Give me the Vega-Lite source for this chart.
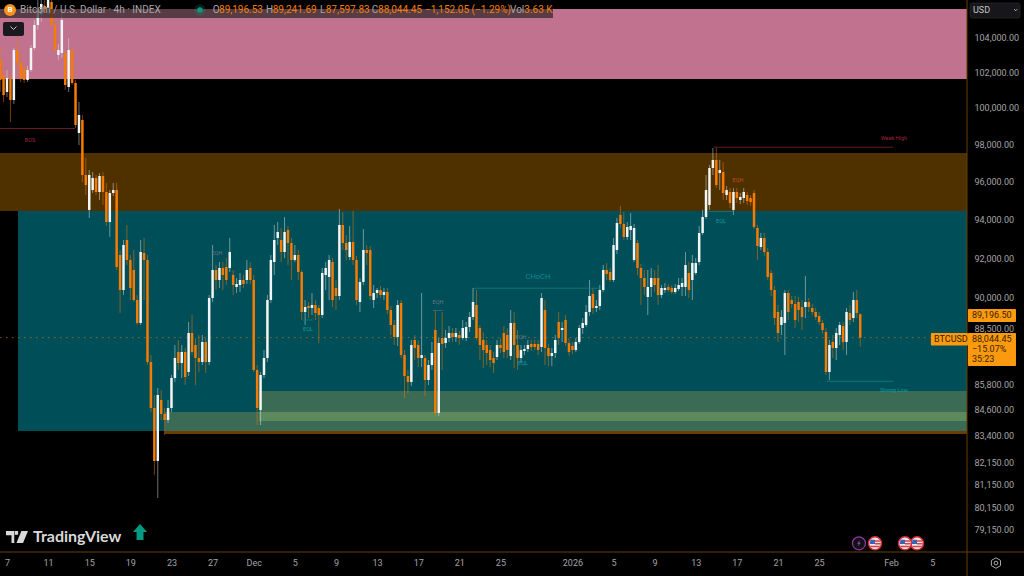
{"$schema":"https://vega.github.io/schema/vega-lite/v6.json","width":967,"height":552,"autosize":"none","padding":{"left":0,"top":0,"right":57,"bottom":24},"background":"#000000","view":{"stroke":null},
"resolve":{"scale":{"color":"independent"},"axis":{"x":"independent","y":"independent"}},
"datasets":{"candles":[
{"t":"2025-11-06T08:00Z","o":102685,"h":103430,"l":100880,"c":101554},
{"t":"2025-11-06T16:00Z","o":101836,"h":102685,"l":100324,"c":100714},
{"t":"2025-11-07T00:00Z","o":100880,"h":102118,"l":100600,"c":101667},
{"t":"2025-11-07T08:00Z","o":101667,"h":101950,"l":99218,"c":100435},
{"t":"2025-11-07T16:00Z","o":100435,"h":103370,"l":100213,"c":103256},
{"t":"2025-11-08T00:00Z","o":103256,"h":103945,"l":102231,"c":102515},
{"t":"2025-11-08T08:00Z","o":102515,"h":102970,"l":101442,"c":101667},
{"t":"2025-11-08T16:00Z","o":102231,"h":102570,"l":101386,"c":101554},
{"t":"2025-11-09T00:00Z","o":101554,"h":102344,"l":101442,"c":102118},
{"t":"2025-11-09T08:00Z","o":102118,"h":103543,"l":102005,"c":103370},
{"t":"2025-11-09T16:00Z","o":103370,"h":104987,"l":103256,"c":104696},
{"t":"2025-11-10T00:00Z","o":104696,"h":106155,"l":104406,"c":105570},
{"t":"2025-11-10T08:00Z","o":105337,"h":106450,"l":104870,"c":105920},
{"t":"2025-11-10T16:00Z","o":105804,"h":106155,"l":105103,"c":105570},
{"t":"2025-11-11T00:00Z","o":105687,"h":106450,"l":105337,"c":106155},
{"t":"2025-11-11T08:00Z","o":106040,"h":106300,"l":104522,"c":104696},
{"t":"2025-11-11T16:00Z","o":104696,"h":105103,"l":103142,"c":103256},
{"t":"2025-11-12T00:00Z","o":102970,"h":103600,"l":102685,"c":103256},
{"t":"2025-11-12T08:00Z","o":103085,"h":105570,"l":102800,"c":104987},
{"t":"2025-11-12T16:00Z","o":103085,"h":103256,"l":100993,"c":101273},
{"t":"2025-11-13T00:00Z","o":101161,"h":103945,"l":100880,"c":103256},
{"t":"2025-11-13T08:00Z","o":103256,"h":103430,"l":101273,"c":101386},
{"t":"2025-11-13T16:00Z","o":101386,"h":101554,"l":98889,"c":99053},
{"t":"2025-11-14T00:00Z","o":98615,"h":100324,"l":97960,"c":99604},
{"t":"2025-11-14T08:00Z","o":99328,"h":99604,"l":95974,"c":96347},
{"t":"2025-11-14T16:00Z","o":96347,"h":97258,"l":95285,"c":95815},
{"t":"2025-11-15T00:00Z","o":94500,"h":96614,"l":94080,"c":96347},
{"t":"2025-11-15T08:00Z","o":95550,"h":96507,"l":95391,"c":96187},
{"t":"2025-11-15T16:00Z","o":96187,"h":96347,"l":95285,"c":95444},
{"t":"2025-11-16T00:00Z","o":95444,"h":96454,"l":95020,"c":96294},
{"t":"2025-11-16T08:00Z","o":96294,"h":96507,"l":94760,"c":95444},
{"t":"2025-11-16T16:00Z","o":95444,"h":95921,"l":93663,"c":93871},
{"t":"2025-11-17T00:00Z","o":93871,"h":95550,"l":93095,"c":95391},
{"t":"2025-11-17T08:00Z","o":95391,"h":95921,"l":95232,"c":95550},
{"t":"2025-11-17T16:00Z","o":95550,"h":95921,"l":91407,"c":91559},
{"t":"2025-11-18T00:00Z","o":92170,"h":92425,"l":89256,"c":90400},
{"t":"2025-11-18T08:00Z","o":90400,"h":92940,"l":90150,"c":92682},
{"t":"2025-11-18T16:00Z","o":92940,"h":93715,"l":91660,"c":91914},
{"t":"2025-11-19T00:00Z","o":91914,"h":92170,"l":89900,"c":90500},
{"t":"2025-11-19T08:00Z","o":91407,"h":92425,"l":89800,"c":89900},
{"t":"2025-11-19T16:00Z","o":89900,"h":90150,"l":88664,"c":88762},
{"t":"2025-11-20T00:00Z","o":88762,"h":92940,"l":88664,"c":92323},
{"t":"2025-11-20T08:00Z","o":92272,"h":93043,"l":89900,"c":91914},
{"t":"2025-11-20T16:00Z","o":91914,"h":92170,"l":86721,"c":86865},
{"t":"2025-11-21T00:00Z","o":86865,"h":87200,"l":84492,"c":84680},
{"t":"2025-11-21T08:00Z","o":84680,"h":85290,"l":81595,"c":82230},
{"t":"2025-11-21T16:00Z","o":82230,"h":85623,"l":80560,"c":85290},
{"t":"2025-11-22T00:00Z","o":85055,"h":85528,"l":84118,"c":84399},
{"t":"2025-11-22T08:00Z","o":84399,"h":84680,"l":83420,"c":84118},
{"t":"2025-11-22T16:00Z","o":84118,"h":85055,"l":83979,"c":84680},
{"t":"2025-11-23T00:00Z","o":84680,"h":86242,"l":84492,"c":86098},
{"t":"2025-11-23T08:00Z","o":86098,"h":87687,"l":85908,"c":87058},
{"t":"2025-11-23T16:00Z","o":87347,"h":87930,"l":86481,"c":86817},
{"t":"2025-11-24T00:00Z","o":86817,"h":87687,"l":86098,"c":87347},
{"t":"2025-11-24T08:00Z","o":87347,"h":87541,"l":85765,"c":86146},
{"t":"2025-11-24T16:00Z","o":86385,"h":88811,"l":86194,"c":88272},
{"t":"2025-11-25T00:00Z","o":88272,"h":89157,"l":87202,"c":87347},
{"t":"2025-11-25T08:00Z","o":87687,"h":88028,"l":85765,"c":87058},
{"t":"2025-11-25T16:00Z","o":87058,"h":88174,"l":86385,"c":86865},
{"t":"2025-11-26T00:00Z","o":86865,"h":88174,"l":86721,"c":87833},
{"t":"2025-11-26T08:00Z","o":87833,"h":88028,"l":86338,"c":86865},
{"t":"2025-11-26T16:00Z","o":86865,"h":90150,"l":86721,"c":90000},
{"t":"2025-11-27T00:00Z","o":90000,"h":92682,"l":89800,"c":91407},
{"t":"2025-11-27T08:00Z","o":91407,"h":91660,"l":90400,"c":90902},
{"t":"2025-11-27T16:00Z","o":90902,"h":91812,"l":90500,"c":91508},
{"t":"2025-11-28T00:00Z","o":91508,"h":91812,"l":90400,"c":91154},
{"t":"2025-11-28T08:00Z","o":91559,"h":92017,"l":90650,"c":90902},
{"t":"2025-11-28T16:00Z","o":91508,"h":93043,"l":91306,"c":92323},
{"t":"2025-11-29T00:00Z","o":91154,"h":91407,"l":90150,"c":90650},
{"t":"2025-11-29T08:00Z","o":90550,"h":91003,"l":90250,"c":90700},
{"t":"2025-11-29T16:00Z","o":90650,"h":91255,"l":90300,"c":90902},
{"t":"2025-11-30T00:00Z","o":90902,"h":91154,"l":90500,"c":90700},
{"t":"2025-11-30T08:00Z","o":90902,"h":91914,"l":90700,"c":91407},
{"t":"2025-11-30T16:00Z","o":91508,"h":91812,"l":90700,"c":90902},
{"t":"2025-12-01T00:00Z","o":90902,"h":91154,"l":86385,"c":86481},
{"t":"2025-12-01T08:00Z","o":86481,"h":86721,"l":83885,"c":84680},
{"t":"2025-12-01T16:00Z","o":84586,"h":86385,"l":83885,"c":86242},
{"t":"2025-12-02T00:00Z","o":86242,"h":87444,"l":86098,"c":87058},
{"t":"2025-12-02T08:00Z","o":87058,"h":90150,"l":86865,"c":89900},
{"t":"2025-12-02T16:00Z","o":89900,"h":92170,"l":89750,"c":91914},
{"t":"2025-12-03T00:00Z","o":91812,"h":93715,"l":91154,"c":92940},
{"t":"2025-12-03T08:00Z","o":93043,"h":93871,"l":92682,"c":93352},
{"t":"2025-12-03T16:00Z","o":92940,"h":93559,"l":91812,"c":92323},
{"t":"2025-12-04T00:00Z","o":92323,"h":94132,"l":92017,"c":93352},
{"t":"2025-12-04T08:00Z","o":93455,"h":93663,"l":91660,"c":92785},
{"t":"2025-12-04T16:00Z","o":92785,"h":93043,"l":90902,"c":91914},
{"t":"2025-12-05T00:00Z","o":91914,"h":92682,"l":91812,"c":92170},
{"t":"2025-12-05T08:00Z","o":92170,"h":92425,"l":90902,"c":91306},
{"t":"2025-12-05T16:00Z","o":91306,"h":91407,"l":88910,"c":89305},
{"t":"2025-12-06T00:00Z","o":89305,"h":89900,"l":88664,"c":89553},
{"t":"2025-12-06T08:00Z","o":89603,"h":89800,"l":89009,"c":89503},
{"t":"2025-12-06T16:00Z","o":89503,"h":90250,"l":89157,"c":89652},
{"t":"2025-12-07T00:00Z","o":89652,"h":89900,"l":88910,"c":89256},
{"t":"2025-12-07T08:00Z","o":89503,"h":89652,"l":87784,"c":89157},
{"t":"2025-12-07T16:00Z","o":89157,"h":91508,"l":89009,"c":91255},
{"t":"2025-12-08T00:00Z","o":91154,"h":91812,"l":90400,"c":91508},
{"t":"2025-12-08T08:00Z","o":91053,"h":92170,"l":89900,"c":91914},
{"t":"2025-12-08T16:00Z","o":91812,"h":92017,"l":89553,"c":89900},
{"t":"2025-12-09T00:00Z","o":90500,"h":90902,"l":89404,"c":90100},
{"t":"2025-12-09T08:00Z","o":90100,"h":94550,"l":89900,"c":93715},
{"t":"2025-12-09T16:00Z","o":93715,"h":94395,"l":92425,"c":92785},
{"t":"2025-12-10T00:00Z","o":92785,"h":93197,"l":91914,"c":92425},
{"t":"2025-12-10T08:00Z","o":92068,"h":93663,"l":91914,"c":92837},
{"t":"2025-12-10T16:00Z","o":92837,"h":94448,"l":91660,"c":91914},
{"t":"2025-12-11T00:00Z","o":91914,"h":92119,"l":89652,"c":89900},
{"t":"2025-12-11T08:00Z","o":89800,"h":91003,"l":89305,"c":90800},
{"t":"2025-12-11T16:00Z","o":90800,"h":93507,"l":90650,"c":92425},
{"t":"2025-12-12T00:00Z","o":92425,"h":92682,"l":91660,"c":92272},
{"t":"2025-12-12T08:00Z","o":92425,"h":92630,"l":89900,"c":90100},
{"t":"2025-12-12T16:00Z","o":89900,"h":90650,"l":89503,"c":90250},
{"t":"2025-12-13T00:00Z","o":90250,"h":90500,"l":90000,"c":90400},
{"t":"2025-12-13T08:00Z","o":90400,"h":90600,"l":90000,"c":90150},
{"t":"2025-12-13T16:00Z","o":90150,"h":90500,"l":89900,"c":90300},
{"t":"2025-12-14T00:00Z","o":90300,"h":90500,"l":89207,"c":89404},
{"t":"2025-12-14T08:00Z","o":89404,"h":89603,"l":88174,"c":88664},
{"t":"2025-12-14T16:00Z","o":88664,"h":88910,"l":87687,"c":88076},
{"t":"2025-12-15T00:00Z","o":88076,"h":89900,"l":87638,"c":89652},
{"t":"2025-12-15T08:00Z","o":89750,"h":89900,"l":87058,"c":87202},
{"t":"2025-12-15T16:00Z","o":87202,"h":87444,"l":85150,"c":86194},
{"t":"2025-12-16T00:00Z","o":86194,"h":86481,"l":85386,"c":85908},
{"t":"2025-12-16T08:00Z","o":85908,"h":87930,"l":85718,"c":87687},
{"t":"2025-12-16T16:00Z","o":87930,"h":88174,"l":86961,"c":87541},
{"t":"2025-12-17T00:00Z","o":87687,"h":87930,"l":86625,"c":87058},
{"t":"2025-12-17T08:00Z","o":87058,"h":90250,"l":86625,"c":87202},
{"t":"2025-12-17T16:00Z","o":87058,"h":87202,"l":85244,"c":86003},
{"t":"2025-12-18T00:00Z","o":86003,"h":86961,"l":85765,"c":86721},
{"t":"2025-12-18T08:00Z","o":86721,"h":87833,"l":86481,"c":87299},
{"t":"2025-12-18T16:00Z","o":88418,"h":89404,"l":84305,"c":84445},
{"t":"2025-12-19T00:00Z","o":84445,"h":88028,"l":84305,"c":87784},
{"t":"2025-12-19T08:00Z","o":88028,"h":89305,"l":86481,"c":87736},
{"t":"2025-12-19T16:00Z","o":87784,"h":88418,"l":87541,"c":88028},
{"t":"2025-12-20T00:00Z","o":88028,"h":88615,"l":87833,"c":88272},
{"t":"2025-12-20T08:00Z","o":88272,"h":88516,"l":87833,"c":88076},
{"t":"2025-12-20T16:00Z","o":88076,"h":88516,"l":87833,"c":88272},
{"t":"2025-12-21T00:00Z","o":88174,"h":88369,"l":87687,"c":88028},
{"t":"2025-12-21T08:00Z","o":88028,"h":88910,"l":87930,"c":88516},
{"t":"2025-12-21T16:00Z","o":88028,"h":88811,"l":87882,"c":88566},
{"t":"2025-12-22T00:00Z","o":88566,"h":89305,"l":88320,"c":89058},
{"t":"2025-12-22T08:00Z","o":89058,"h":90500,"l":88910,"c":89800},
{"t":"2025-12-22T16:00Z","o":89652,"h":90400,"l":87930,"c":88028},
{"t":"2025-12-23T00:00Z","o":88516,"h":88664,"l":86961,"c":87687},
{"t":"2025-12-23T08:00Z","o":87930,"h":88320,"l":86577,"c":87444},
{"t":"2025-12-23T16:00Z","o":87687,"h":87930,"l":86721,"c":87299},
{"t":"2025-12-24T00:00Z","o":87444,"h":87687,"l":86625,"c":86961},
{"t":"2025-12-24T08:00Z","o":87058,"h":87347,"l":86338,"c":86817},
{"t":"2025-12-24T16:00Z","o":87106,"h":87930,"l":86961,"c":87687},
{"t":"2025-12-25T00:00Z","o":87687,"h":88028,"l":87299,"c":87541},
{"t":"2025-12-25T08:00Z","o":88272,"h":88615,"l":87058,"c":87347},
{"t":"2025-12-25T16:00Z","o":88174,"h":88516,"l":87058,"c":87444},
{"t":"2025-12-26T00:00Z","o":87154,"h":89404,"l":86961,"c":88762},
{"t":"2025-12-26T08:00Z","o":88762,"h":89305,"l":86577,"c":87687},
{"t":"2025-12-26T16:00Z","o":87687,"h":88418,"l":86481,"c":87058},
{"t":"2025-12-27T00:00Z","o":87058,"h":87687,"l":86817,"c":87444},
{"t":"2025-12-27T08:00Z","o":87396,"h":87687,"l":87202,"c":87493},
{"t":"2025-12-27T16:00Z","o":87493,"h":87930,"l":87347,"c":87687},
{"t":"2025-12-28T00:00Z","o":87736,"h":87930,"l":87396,"c":87590},
{"t":"2025-12-28T08:00Z","o":87736,"h":87930,"l":87444,"c":87590},
{"t":"2025-12-28T16:00Z","o":87736,"h":87930,"l":87202,"c":87444},
{"t":"2025-12-29T00:00Z","o":87590,"h":90250,"l":87347,"c":90000},
{"t":"2025-12-29T08:00Z","o":89404,"h":89900,"l":86721,"c":87541},
{"t":"2025-12-29T16:00Z","o":87541,"h":87736,"l":86673,"c":87154},
{"t":"2025-12-30T00:00Z","o":87154,"h":87541,"l":86673,"c":87299},
{"t":"2025-12-30T08:00Z","o":87299,"h":88174,"l":87058,"c":87930},
{"t":"2025-12-30T16:00Z","o":88811,"h":89305,"l":87687,"c":88028},
{"t":"2025-12-31T00:00Z","o":88418,"h":88811,"l":87833,"c":88516},
{"t":"2025-12-31T08:00Z","o":88910,"h":89157,"l":87638,"c":87784},
{"t":"2025-12-31T16:00Z","o":87784,"h":88028,"l":87154,"c":87347},
{"t":"2026-01-01T00:00Z","o":87638,"h":87833,"l":87250,"c":87444},
{"t":"2026-01-01T08:00Z","o":87444,"h":88028,"l":87347,"c":87833},
{"t":"2026-01-01T16:00Z","o":87833,"h":88664,"l":87736,"c":88516},
{"t":"2026-01-02T00:00Z","o":88516,"h":89009,"l":88223,"c":88762},
{"t":"2026-01-02T08:00Z","o":88664,"h":89652,"l":88566,"c":89305},
{"t":"2026-01-02T16:00Z","o":89305,"h":90902,"l":89108,"c":90100},
{"t":"2026-01-03T00:00Z","o":90200,"h":90500,"l":89207,"c":89503},
{"t":"2026-01-03T08:00Z","o":89503,"h":89900,"l":89305,"c":89603},
{"t":"2026-01-03T16:00Z","o":89603,"h":90650,"l":89404,"c":90400},
{"t":"2026-01-04T00:00Z","o":90400,"h":91660,"l":90300,"c":91407},
{"t":"2026-01-04T08:00Z","o":91407,"h":91761,"l":90902,"c":91205},
{"t":"2026-01-04T16:00Z","o":91306,"h":91508,"l":90800,"c":90902},
{"t":"2026-01-05T00:00Z","o":90902,"h":93043,"l":90800,"c":92682},
{"t":"2026-01-05T08:00Z","o":92425,"h":94080,"l":92221,"c":93819},
{"t":"2026-01-05T16:00Z","o":94238,"h":94710,"l":93559,"c":93767},
{"t":"2026-01-06T00:00Z","o":93767,"h":94395,"l":92940,"c":93095},
{"t":"2026-01-06T08:00Z","o":93095,"h":93871,"l":92940,"c":93611},
{"t":"2026-01-06T16:00Z","o":93455,"h":94342,"l":92940,"c":93663},
{"t":"2026-01-07T00:00Z","o":91914,"h":93767,"l":91812,"c":93559},
{"t":"2026-01-07T08:00Z","o":92785,"h":92940,"l":91154,"c":91508},
{"t":"2026-01-07T16:00Z","o":91508,"h":91711,"l":89652,"c":91003},
{"t":"2026-01-08T00:00Z","o":91003,"h":91407,"l":90150,"c":90550},
{"t":"2026-01-08T08:00Z","o":90050,"h":91407,"l":89157,"c":90550},
{"t":"2026-01-08T16:00Z","o":90550,"h":91508,"l":90050,"c":91003},
{"t":"2026-01-09T00:00Z","o":91003,"h":91407,"l":90300,"c":90650},
{"t":"2026-01-09T08:00Z","o":91003,"h":91660,"l":89652,"c":90150},
{"t":"2026-01-09T16:00Z","o":90150,"h":90650,"l":90000,"c":90500},
{"t":"2026-01-10T00:00Z","o":90400,"h":90750,"l":90250,"c":90500},
{"t":"2026-01-10T08:00Z","o":90550,"h":90700,"l":90300,"c":90400},
{"t":"2026-01-10T16:00Z","o":90500,"h":90650,"l":90200,"c":90300},
{"t":"2026-01-11T00:00Z","o":90300,"h":90700,"l":90200,"c":90500},
{"t":"2026-01-11T08:00Z","o":90450,"h":91003,"l":90350,"c":90650},
{"t":"2026-01-11T16:00Z","o":90550,"h":91003,"l":90100,"c":90750},
{"t":"2026-01-12T00:00Z","o":90550,"h":92323,"l":90100,"c":91660},
{"t":"2026-01-12T08:00Z","o":91255,"h":91812,"l":90000,"c":90400},
{"t":"2026-01-12T16:00Z","o":90902,"h":92170,"l":89900,"c":91761},
{"t":"2026-01-13T00:00Z","o":91255,"h":92017,"l":91154,"c":91761},
{"t":"2026-01-13T08:00Z","o":91812,"h":93663,"l":91660,"c":93300},
{"t":"2026-01-13T16:00Z","o":93300,"h":94500,"l":93197,"c":94132},
{"t":"2026-01-14T00:00Z","o":94132,"h":96347,"l":94028,"c":95550},
{"t":"2026-01-14T08:00Z","o":94760,"h":96882,"l":94500,"c":96721},
{"t":"2026-01-14T16:00Z","o":96721,"h":97798,"l":96347,"c":97150},
{"t":"2026-01-15T00:00Z","o":97150,"h":97798,"l":95656,"c":95815},
{"t":"2026-01-15T08:00Z","o":96454,"h":97150,"l":95550,"c":96614},
{"t":"2026-01-15T16:00Z","o":96507,"h":97043,"l":95020,"c":95391},
{"t":"2026-01-16T00:00Z","o":95285,"h":95762,"l":95020,"c":95550},
{"t":"2026-01-16T08:00Z","o":95444,"h":95656,"l":94604,"c":94864},
{"t":"2026-01-16T16:00Z","o":94500,"h":95656,"l":94238,"c":95444},
{"t":"2026-01-17T00:00Z","o":95444,"h":95656,"l":94864,"c":95126},
{"t":"2026-01-17T08:00Z","o":95020,"h":95391,"l":94812,"c":95179},
{"t":"2026-01-17T16:00Z","o":95126,"h":95656,"l":94864,"c":95444},
{"t":"2026-01-18T00:00Z","o":95285,"h":95444,"l":94760,"c":94968},
{"t":"2026-01-18T08:00Z","o":95126,"h":95285,"l":94708,"c":94916},
{"t":"2026-01-18T16:00Z","o":95391,"h":95550,"l":93507,"c":93611},
{"t":"2026-01-19T00:00Z","o":93559,"h":93715,"l":91914,"c":92630},
{"t":"2026-01-19T08:00Z","o":92579,"h":93300,"l":92425,"c":93043},
{"t":"2026-01-19T16:00Z","o":93043,"h":93300,"l":92119,"c":92323},
{"t":"2026-01-20T00:00Z","o":92323,"h":92528,"l":90902,"c":91053},
{"t":"2026-01-20T08:00Z","o":91255,"h":91407,"l":90100,"c":90400},
{"t":"2026-01-20T16:00Z","o":90400,"h":90600,"l":88664,"c":89009},
{"t":"2026-01-21T00:00Z","o":89305,"h":89652,"l":87833,"c":88272},
{"t":"2026-01-21T08:00Z","o":88664,"h":89404,"l":88174,"c":89058},
{"t":"2026-01-21T16:00Z","o":88762,"h":90400,"l":87202,"c":90250},
{"t":"2026-01-22T00:00Z","o":90250,"h":90400,"l":88910,"c":89305},
{"t":"2026-01-22T08:00Z","o":89900,"h":90100,"l":89503,"c":89701},
{"t":"2026-01-22T16:00Z","o":89701,"h":90100,"l":88516,"c":88910},
{"t":"2026-01-23T00:00Z","o":89800,"h":90050,"l":88811,"c":89404},
{"t":"2026-01-23T08:00Z","o":89553,"h":89900,"l":88418,"c":89058},
{"t":"2026-01-23T16:00Z","o":89553,"h":91103,"l":89009,"c":89800},
{"t":"2026-01-24T00:00Z","o":89800,"h":90000,"l":89305,"c":89553},
{"t":"2026-01-24T08:00Z","o":89503,"h":89701,"l":89157,"c":89305},
{"t":"2026-01-24T16:00Z","o":89305,"h":89503,"l":88910,"c":89058},
{"t":"2026-01-25T00:00Z","o":89108,"h":89305,"l":88664,"c":88811},
{"t":"2026-01-25T08:00Z","o":88762,"h":88910,"l":88223,"c":88418},
{"t":"2026-01-25T16:00Z","o":88320,"h":88516,"l":86242,"c":86385},
{"t":"2026-01-26T00:00Z","o":86385,"h":87930,"l":86003,"c":87687},
{"t":"2026-01-26T08:00Z","o":87833,"h":88174,"l":87058,"c":87541},
{"t":"2026-01-26T16:00Z","o":87541,"h":88516,"l":86961,"c":88272},
{"t":"2026-01-27T00:00Z","o":88174,"h":88811,"l":87687,"c":88664},
{"t":"2026-01-27T08:00Z","o":88615,"h":88811,"l":87444,"c":87833},
{"t":"2026-01-27T16:00Z","o":87833,"h":89503,"l":87202,"c":89305},
{"t":"2026-01-28T00:00Z","o":89256,"h":89652,"l":88664,"c":88910},
{"t":"2026-01-28T08:00Z","o":89009,"h":90300,"l":88811,"c":89900},
{"t":"2026-01-28T16:00Z","o":89900,"h":90400,"l":89009,"c":89256},
{"t":"2026-01-29T00:00Z","o":89196.53,"h":89241.69,"l":87597.83,"c":88044.45}
]},
"layer":[
{"data":{"values":[
{"zone":"pink","t":"2025-11-06T07:40Z","t1":"2026-02-08T09:15Z","p":105630,"p1":101610},
{"zone":"brown","t":"2025-11-06T07:40Z","t1":"2026-02-08T09:15Z","p":97530,"p1":94444},
{"zone":"teal","t":"2025-11-08T01:40Z","t1":"2026-02-08T09:15Z","p":94444,"p1":83607},
{"zone":"green","t":"2025-11-22T09:00Z","t1":"2026-02-08T09:15Z","p":84490,"p1":83607},
{"zone":"green","t":"2025-12-01T12:00Z","t1":"2026-02-08T09:15Z","p":85480,"p1":84490},
{"zone":"overlap","t":"2025-12-01T12:00Z","t1":"2026-02-08T09:15Z","p":84490,"p1":84070},
{"zone":"edge","t":"2025-11-22T09:00Z","t1":"2026-02-08T09:15Z","p":83607,"p1":83470}
],"format":{"parse":{"t":"date","t1":"date"}}},
"mark":{"type":"rect"},
"encoding":{
"x":{"field":"t","type":"temporal","scale":{"type":"utc","domain":[{"year":2025,"month":11,"date":6,"hours":7,"minutes":40,"utc":true},{"year":2026,"month":2,"date":8,"hours":9,"minutes":15,"utc":true}],"nice":false},
"axis":{"title":null,"domain":false,"ticks":false,"grid":false,"labelFont":"Roboto","labelFontSize":9,"labelColor":"#a4a4a4","labelPadding":6,"labelOverlap":false,"labelBound":false,"labelFlush":false,"values":[{"year":2025,"month":11,"date":7,"utc":true},{"year":2025,"month":11,"date":11,"utc":true},{"year":2025,"month":11,"date":15,"utc":true},{"year":2025,"month":11,"date":19,"utc":true},{"year":2025,"month":11,"date":23,"utc":true},{"year":2025,"month":11,"date":27,"utc":true},{"year":2025,"month":12,"date":1,"utc":true},{"year":2025,"month":12,"date":5,"utc":true},{"year":2025,"month":12,"date":9,"utc":true},{"year":2025,"month":12,"date":13,"utc":true},{"year":2025,"month":12,"date":17,"utc":true},{"year":2025,"month":12,"date":21,"utc":true},{"year":2025,"month":12,"date":25,"utc":true},{"year":2026,"month":1,"date":1,"utc":true},{"year":2026,"month":1,"date":5,"utc":true},{"year":2026,"month":1,"date":9,"utc":true},{"year":2026,"month":1,"date":13,"utc":true},{"year":2026,"month":1,"date":17,"utc":true},{"year":2026,"month":1,"date":21,"utc":true},{"year":2026,"month":1,"date":25,"utc":true},{"year":2026,"month":2,"date":1,"utc":true},{"year":2026,"month":2,"date":5,"utc":true}],"labelExpr":"utcdate(datum.value)==1?(utcmonth(datum.value)==11?'Dec':utcmonth(datum.value)==0?'2026':'Feb'):''+utcdate(datum.value)"}},
"x2":{"field":"t1"},
"y":{"field":"p","type":"quantitative","scale":{"type":"log","domain":[78186,106155],"nice":false,"zero":false},
"axis":{"title":null,"orient":"right","domain":false,"ticks":false,"grid":false,"labelFont":"Roboto","labelFontSize":9,"labelColor":"#a4a4a4","labelPadding":7,"labelOverlap":false,"labelBound":false,"labelFlush":false,"format":",.2f","values":[104000,102000,100000,98000,96000,94000,92000,90000,88500,85800,84600,83400,82150,81150,80150,79150]}},
"y2":{"field":"p1"},
"color":{"field":"zone","type":"nominal","legend":null,"scale":{"domain":["pink","brown","teal","green","overlap","edge"],"range":["#c0728e","#4f3100","#004e57","#3c6b55","#5c8a5c","#6b3d00"]}}}},
{"data":{"values":[{"t":"2025-11-06T07:40Z","t1":"2026-02-04T21:00Z","p":88044.45}],"format":{"parse":{"t":"date","t1":"date"}}},
"mark":{"type":"rule","color":"#b0752a","strokeWidth":1,"strokeDash":[1.5,4.5],"opacity":0.75},
"encoding":{"x":{"field":"t","type":"temporal","axis":null},"x2":{"field":"t1"},"y":{"field":"p","type":"quantitative","axis":null}}},
{"data":{"name":"candles","format":{"parse":{"t":"date"}}},
"mark":{"type":"rule","strokeWidth":1,"opacity":0.5,"clip":true},
"encoding":{"x":{"field":"t","type":"temporal","axis":null},"y":{"field":"l","type":"quantitative","axis":null},"y2":{"field":"h"},"color":{"condition":{"test":"datum.c>=datum.o","value":"#d8e4e6"},"value":"#f57c00"}}},
{"data":{"name":"candles","format":{"parse":{"t":"date"}}},
"mark":{"type":"rule","strokeWidth":2.5,"clip":true},
"encoding":{"x":{"field":"t","type":"temporal","axis":null},"y":{"field":"o","type":"quantitative","axis":null},"y2":{"field":"c"},"color":{"condition":{"test":"datum.c>=datum.o","value":"#f2f5f5"},"value":"#f57c00"}}},
{"data":{"values":[
{"kind":"red","t":"2025-11-06T07:40Z","t1":"2025-11-13T14:40Z","p":98860},
{"kind":"red","t":"2026-01-14T18:30Z","t1":"2026-02-01T04:30Z","p":97840},
{"kind":"teal","t":"2026-01-25T18:30Z","t1":"2026-02-01T04:30Z","p":85940},
{"kind":"teal","t":"2025-12-22T10:20Z","t1":"2026-01-03T16:30Z","p":90490},
{"kind":"gray","t":"2025-12-18T10:30Z","t1":"2025-12-19T10:00Z","p":89380},
{"kind":"teal","t":"2025-12-05T19:00Z","t1":"2025-12-06T18:30Z","p":88910},
{"kind":"teal","t":"2026-01-14T02:10Z","t1":"2026-01-16T15:00Z","p":94420}
],"format":{"parse":{"t":"date","t1":"date"}}},
"mark":{"type":"rule","strokeWidth":0.8},
"encoding":{"x":{"field":"t","type":"temporal","axis":null},"x2":{"field":"t1"},"y":{"field":"p","type":"quantitative","axis":null},"stroke":{"field":"kind","type":"nominal","legend":null,"scale":{"domain":["red","teal","gray"],"range":["#8a2030","#0f7f86","#4e6570"]}}}},
{"data":{"values":[
{"kind":"red","label":"BOS","t":"2025-11-09T05:40Z","p":98233},
{"kind":"red","label":"Weak High","t":"2026-02-01T06:40Z","p":98340},
{"kind":"teal","label":"Strong Low","t":"2026-02-01T06:40Z","p":85528},
{"kind":"gray","label":"EQH","t":"2025-11-27T10:20Z","p":92270},
{"kind":"teal","label":"EQL","t":"2025-12-06T06:40Z","p":88470},
{"kind":"gray","label":"EQH","t":"2025-12-18T22:20Z","p":89800},
{"kind":"gray","label":"EQH","t":"2025-12-27T00:00Z","p":88080},
{"kind":"teal","label":"EQL","t":"2025-12-27T04:40Z","p":86820},
{"kind":"teal","label":"EQL","t":"2026-01-15T11:00Z","p":93920},
{"kind":"rust","label":"EQH","t":"2026-01-17T02:40Z","p":96080}
],"format":{"parse":{"t":"date"}}},
"mark":{"type":"text","font":"Roboto","fontSize":5.5,"align":"center","baseline":"middle"},
"encoding":{"x":{"field":"t","type":"temporal","axis":null},"y":{"field":"p","type":"quantitative","axis":null},"text":{"field":"label"},"color":{"field":"kind","type":"nominal","legend":null,"scale":{"domain":["red","teal","gray","rust"],"range":["#a02638","#0f9aa0","#6a7888","#c4501e"]}}}},
{"data":{"values":[{"label":"CHoCH","t":"2025-12-28T15:40Z","p":91050}],"format":{"parse":{"t":"date"}}},
"mark":{"type":"text","font":"Roboto","fontSize":7.5,"align":"center","baseline":"middle","color":"#0f8a90"},
"encoding":{"x":{"field":"t","type":"temporal","axis":null},"y":{"field":"p","type":"quantitative","axis":null},"text":{"field":"label"}}},
{"data":{"values":[{"t":"2025-11-06T07:40Z","t1":"2025-12-30T02:40Z","p":105630,"p1":105100}],"format":{"parse":{"t":"date","t1":"date"}}},
"mark":{"type":"rect","color":"#1e1e1e","opacity":0.65},
"encoding":{"x":{"field":"t","type":"temporal","axis":null},"x2":{"field":"t1"},"y":{"field":"p","type":"quantitative","axis":null},"y2":{"field":"p1"}}},
{"data":{"values":[
{"t":"2025-11-06T14:40Z","t1":"2025-11-08T15:40Z","p":104870,"p1":104060}
],"format":{"parse":{"t":"date","t1":"date"}}},
"mark":{"type":"rect","color":"#1b191d","cornerRadius":2},
"encoding":{"x":{"field":"t","type":"temporal","axis":null},"x2":{"field":"t1"},"y":{"field":"p","type":"quantitative","axis":null},"y2":{"field":"p1"}}},
{"data":{"values":[{"t":"2025-11-07T15:10Z","p":104520}],"format":{"parse":{"t":"date"}}},
"mark":{"type":"point","shape":"M-1,-0.5L0,0.5L1,-0.5","size":36,"filled":false,"stroke":"#c8c8c8","strokeWidth":1,"opacity":1},
"encoding":{"x":{"field":"t","type":"temporal","axis":null},"y":{"field":"p","type":"quantitative","axis":null}}},
{"data":{"values":[{"t":"2025-11-07T07:00Z","p":105570}],"format":{"parse":{"t":"date"}}},
"mark":{"type":"point","shape":"circle","size":144,"filled":true,"color":"#f7931a","opacity":1},
"encoding":{"x":{"field":"t","type":"temporal","axis":null},"y":{"field":"p","type":"quantitative","axis":null}}},
{"data":{"values":[{"label":"B","t":"2025-11-07T07:00Z","p":105570}],"format":{"parse":{"t":"date"}}},
"mark":{"type":"text","font":"Roboto","fontSize":8,"fontWeight":"bold","color":"#ffffff","align":"center","baseline":"middle"},
"encoding":{"x":{"field":"t","type":"temporal","axis":null},"y":{"field":"p","type":"quantitative","axis":null},"text":{"field":"label"}}},
{"data":{"values":[{"t":"2025-11-25T18:30Z","p":105570}],"format":{"parse":{"t":"date"}}},
"mark":{"type":"point","shape":"circle","size":130,"filled":true,"color":"#089981","opacity":0.2},
"encoding":{"x":{"field":"t","type":"temporal","axis":null},"y":{"field":"p","type":"quantitative","axis":null}}},
{"data":{"values":[{"t":"2025-11-25T18:30Z","p":105570}],"format":{"parse":{"t":"date"}}},
"mark":{"type":"point","shape":"circle","size":30,"filled":true,"color":"#089981","opacity":1},
"encoding":{"x":{"field":"t","type":"temporal","axis":null},"y":{"field":"p","type":"quantitative","axis":null}}},
{"data":{"values":[
{"kind":"gray","label":"Bitcoin / U.S. Dollar · 4h · INDEX","t":"2025-11-08T06:22Z","p":105570},
{"kind":"gray","label":"O","t":"2025-11-27T00:15Z","p":105570},
{"kind":"orange","label":"89,196.53","t":"2025-11-27T15:00Z","p":105570},
{"kind":"gray","label":"H","t":"2025-12-02T04:36Z","p":105570},
{"kind":"orange","label":"89,241.69","t":"2025-12-02T20:24Z","p":105570},
{"kind":"gray","label":"L","t":"2025-12-07T10:48Z","p":105570},
{"kind":"orange","label":"87,597.83","t":"2025-12-08T00:00Z","p":105570},
{"kind":"gray","label":"C","t":"2025-12-12T11:30Z","p":105570},
{"kind":"orange","label":"88,044.45","t":"2025-12-13T02:10Z","p":105570},
{"kind":"orange","label":"−1,152.05 (−1.29%)","t":"2025-12-17T15:50Z","p":105570},
{"kind":"gray","label":"Vol","t":"2025-12-25T22:20Z","p":105570},
{"kind":"orange","label":"3.63 K","t":"2025-12-27T07:40Z","p":105570}
],"format":{"parse":{"t":"date"}}},
"mark":{"type":"text","font":"Roboto","fontSize":10,"align":"left","baseline":"middle"},
"encoding":{"x":{"field":"t","type":"temporal","axis":null},"y":{"field":"p","type":"quantitative","axis":null},"text":{"field":"label"},"color":{"field":"kind","type":"nominal","legend":null,"scale":{"domain":["gray","orange"],"range":["#a8a4a6","#f57c00"]}}}},
{"data":{"values":[{"t":"2026-02-08T09:15Z","p":106155,"p1":77150}],"format":{"parse":{"t":"date"}}},
"mark":{"type":"rule","color":"#6a3f05","strokeWidth":1},
"encoding":{"x":{"field":"t","type":"temporal","axis":null},"y":{"field":"p","type":"quantitative","axis":null},"y2":{"field":"p1"}}},
{"data":{"values":[{"t":"2025-11-06T07:40Z","t1":"2026-02-13T22:20Z","p":78186}],"format":{"parse":{"t":"date","t1":"date"}}},
"mark":{"type":"rule","color":"#6a3f05","strokeWidth":1},
"encoding":{"x":{"field":"t","type":"temporal","axis":null},"x2":{"field":"t1"},"y":{"field":"p","type":"quantitative","axis":null}}},
{"data":{"values":[
{"t":"2026-02-08T11:30Z","t1":"2026-02-13T03:36Z","p":89450,"p1":88810},
{"t":"2026-02-08T11:30Z","t1":"2026-02-13T03:36Z","p":88270,"p1":86670},
{"t":"2026-02-04T21:00Z","t1":"2026-02-08T11:30Z","p":88270,"p1":87660}
],"format":{"parse":{"t":"date","t1":"date"}}},
"mark":{"type":"rect","color":"#fb9a0e","cornerRadius":1},
"encoding":{"x":{"field":"t","type":"temporal","axis":null},"x2":{"field":"t1"},"y":{"field":"p","type":"quantitative","axis":null},"y2":{"field":"p1"}}},
{"data":{"values":[
{"label":"89,196.50","t":"2026-02-08T20:50Z","p":89140},
{"label":"88,044.45","t":"2026-02-08T20:50Z","p":87980},
{"label":"−15.07%","t":"2026-02-08T20:50Z","p":87490},
{"label":"35:23","t":"2026-02-08T20:50Z","p":87010},
{"label":"BTCUSD","t":"2026-02-05T04:20Z","p":87980}
],"format":{"parse":{"t":"date"}}},
"mark":{"type":"text","font":"Roboto","fontSize":9,"color":"#3a2100","align":"left","baseline":"middle"},
"encoding":{"x":{"field":"t","type":"temporal","axis":null},"y":{"field":"p","type":"quantitative","axis":null},"text":{"field":"label"}}},
{"data":{"values":[{"t":"2026-02-08T16:20Z","t1":"2026-02-13T13:00Z","p":105980,"p1":105100}],"format":{"parse":{"t":"date","t1":"date"}}},
"mark":{"type":"rect","color":"#17171b","stroke":"#2a2a2e","strokeWidth":0.7,"cornerRadius":2},
"encoding":{"x":{"field":"t","type":"temporal","axis":null},"x2":{"field":"t1"},"y":{"field":"p","type":"quantitative","axis":null},"y2":{"field":"p1"}}},
{"data":{"values":[{"label":"USD","t":"2026-02-08T23:20Z","p":105570}],"format":{"parse":{"t":"date"}}},
"mark":{"type":"text","font":"Roboto","fontSize":9,"color":"#c4c4c4","align":"left","baseline":"middle"},
"encoding":{"x":{"field":"t","type":"temporal","axis":null},"y":{"field":"p","type":"quantitative","axis":null},"text":{"field":"label"}}},
{"data":{"values":[{"t":"2026-02-13T03:00Z","p":105570}],"format":{"parse":{"t":"date"}}},
"mark":{"type":"point","shape":"M-1,-0.5L0,0.5L1,-0.5","size":9,"filled":false,"stroke":"#c4c4c4","strokeWidth":1,"opacity":1},
"encoding":{"x":{"field":"t","type":"temporal","axis":null},"y":{"field":"p","type":"quantitative","axis":null}}},
{"data":{"values":[{"label":"TradingView","t":"2025-11-09T12:40Z","p":78840}],"format":{"parse":{"t":"date"}}},
"mark":{"type":"text","font":"Lato","fontSize":16,"fontWeight":"bold","color":"#d9d9d9","align":"left","baseline":"middle"},
"encoding":{"x":{"field":"t","type":"temporal","axis":null},"y":{"field":"p","type":"quantitative","axis":null},"text":{"field":"label"}}},
{"data":{"values":[{"t":"2025-11-07T23:20Z","p":78840}],"format":{"parse":{"t":"date"}}},
"mark":{"type":"point","shape":"M-1,-0.55L-0.25,-0.55L-0.25,0.55L-0.5,0.55L-0.5,-0.15L-1,-0.15Z M-0.2,-0.55L0.1,-0.55L0.1,-0.2L-0.2,-0.2Z M0.4,-0.55L1,-0.55L0.55,0.55L-0.05,0.55Z","size":484,"filled":true,"color":"#d9d9d9","opacity":1},
"encoding":{"x":{"field":"t","type":"temporal","axis":null},"y":{"field":"p","type":"quantitative","axis":null}}},
{"data":{"values":[{"t":"2025-11-19T22:35Z","p":79057}],"format":{"parse":{"t":"date"}}},
"mark":{"type":"point","shape":"M0,-1.15L1,0L0.5,0L0.5,1.15L-0.5,1.15L-0.5,0L-1,0Z","size":196,"filled":true,"color":"#089981","opacity":1},
"encoding":{"x":{"field":"t","type":"temporal","axis":null},"y":{"field":"p","type":"quantitative","axis":null}}},
{"data":{"values":[{"t":"2026-01-28T21:00Z","p":78563}],"format":{"parse":{"t":"date"}}},
"mark":{"type":"point","shape":"circle","size":170,"filled":true,"fill":"#121212","stroke":"#8e3aa8","strokeWidth":1.2,"opacity":1},
"encoding":{"x":{"field":"t","type":"temporal","axis":null},"y":{"field":"p","type":"quantitative","axis":null}}},
{"data":{"values":[{"t":"2026-01-28T21:00Z","p":78563}],"format":{"parse":{"t":"date"}}},
"mark":{"type":"point","shape":"M0.3,-1L-0.6,0.15L-0.05,0.15L-0.3,1L0.6,-0.2L0.05,-0.2Z","size":36,"filled":true,"color":"#a04cc0","opacity":1},
"encoding":{"x":{"field":"t","type":"temporal","axis":null},"y":{"field":"p","type":"quantitative","axis":null}}},
{"data":{"values":[{"t":"2026-01-30T10:30Z","p":78563},{"t":"2026-02-03T12:30Z","p":78563},{"t":"2026-02-02T08:30Z","p":78563}],"format":{"parse":{"t":"date"}}},
"mark":{"type":"point","shape":"circle","size":170,"filled":true,"fill":"#e8e8ea","stroke":"#d32f2f","strokeWidth":1.4,"opacity":1},
"encoding":{"x":{"field":"t","type":"temporal","axis":null},"y":{"field":"p","type":"quantitative","axis":null}}},
{"data":{"values":[{"t":"2026-01-30T10:30Z","p":78563},{"t":"2026-02-03T12:30Z","p":78563},{"t":"2026-02-02T08:30Z","p":78563}],"format":{"parse":{"t":"date"}}},
"mark":{"type":"point","shape":"M-0.75,-0.6L0,-0.6L0,0.1L-0.9,0.1Z","size":144,"filled":true,"color":"#3a62b8","opacity":1},
"encoding":{"x":{"field":"t","type":"temporal","axis":null},"y":{"field":"p","type":"quantitative","axis":null}}},
{"data":{"values":[{"t":"2026-01-30T10:30Z","p":78563},{"t":"2026-02-03T12:30Z","p":78563},{"t":"2026-02-02T08:30Z","p":78563}],"format":{"parse":{"t":"date"}}},
"mark":{"type":"point","shape":"M0,-0.5L0.8,-0.5L0.85,-0.25L0,-0.25Z M0,-0.05L0.95,-0.05L0.95,0.2L0,0.2Z M-0.85,0.4L0.85,0.4L0.7,0.65L-0.7,0.65Z","size":144,"filled":true,"color":"#d8404a","opacity":1},
"encoding":{"x":{"field":"t","type":"temporal","axis":null},"y":{"field":"p","type":"quantitative","axis":null}}},
{"data":{"values":[{"t":"2026-02-11T04:50Z","p":77710}],"format":{"parse":{"t":"date"}}},
"mark":{"type":"point","shape":"M0,-1L0.87,-0.5L0.87,0.5L0,1L-0.87,0.5L-0.87,-0.5Z","size":110,"filled":false,"stroke":"#a8a8a8","strokeWidth":1,"opacity":1},
"encoding":{"x":{"field":"t","type":"temporal","axis":null},"y":{"field":"p","type":"quantitative","axis":null}}},
{"data":{"values":[{"t":"2026-02-11T04:50Z","p":77710}],"format":{"parse":{"t":"date"}}},
"mark":{"type":"point","shape":"circle","size":14,"filled":false,"stroke":"#a8a8a8","strokeWidth":1,"opacity":1},
"encoding":{"x":{"field":"t","type":"temporal","axis":null},"y":{"field":"p","type":"quantitative","axis":null}}}
]}
